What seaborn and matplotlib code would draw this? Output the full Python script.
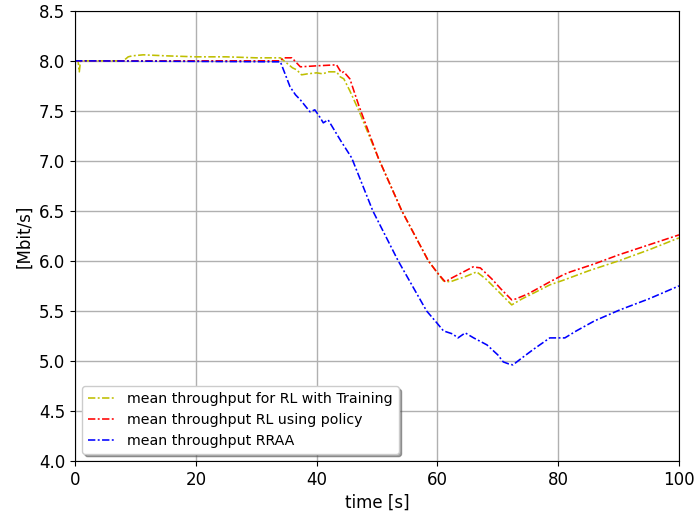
import matplotlib
matplotlib.use("Agg")
import matplotlib.pyplot as plt
import seaborn as sns
import pandas as pd

# ---- data ----
train_x = [0, 0.5, 0.7, 0.9, 2, 5, 8, 8.8, 9.5, 11.3, 15, 20, 25, 30, 34, 35, 36, 36.7, 37.5,
           38.5, 40, 41, 42, 43.3, 43.9, 44.5, 45.5, 47, 50.2, 54.1, 58.5, 60, 61, 62.1, 63,
           64.5, 66.5, 68, 70, 72.3, 74, 76, 78.6, 81, 85, 90, 95, 100]
train_y = [8.0, 8.0, 7.89, 8.0, 8.0, 8.0, 8.0, 8.04, 8.05, 8.06, 8.05, 8.04, 8.04, 8.03, 8.03,
           7.98, 7.93, 7.91, 7.86, 7.87, 7.88, 7.87, 7.89, 7.89, 7.84, 7.82, 7.7, 7.5, 7.03,
           6.5, 6.0, 5.88, 5.8, 5.79, 5.81, 5.84, 5.89, 5.82, 5.7, 5.56, 5.62, 5.68, 5.76,
           5.81, 5.9, 6.0, 6.11, 6.23]

policy_x = [0, 34, 34.5, 35.9, 37.3, 40, 43.3, 44.1, 44.5, 45.5, 47, 50.2, 54.1, 58.5, 60,
            61.3, 62.4, 64, 65.9, 67.1, 69, 70.5, 72.3, 73, 75, 78.6, 80.8, 82, 86, 90, 95, 100]
policy_y = [8.0, 8.0, 8.03, 8.03, 7.94, 7.95, 7.96, 7.88, 7.89, 7.82, 7.55, 7.03, 6.5, 6.0,
            5.88, 5.79, 5.83, 5.88, 5.94, 5.93, 5.82, 5.72, 5.61, 5.62, 5.67, 5.79, 5.86,
            5.89, 5.97, 6.06, 6.16, 6.26]

rraa_x = [0, 34, 35.6, 36.5, 37.3, 38.9, 39.7, 40.5, 41.1, 41.9, 42.5, 44, 45.8, 49.3, 53.5,
          58.2, 59.9, 61, 62.5, 63.4, 64.6, 66, 68.2, 70, 70.9, 71.8, 72.5, 74, 76, 78.6, 80,
          81.1, 83, 86, 90.2, 95, 100]
rraa_y = [8.0, 7.99, 7.74, 7.66, 7.61, 7.49, 7.51, 7.44, 7.38, 7.41, 7.35, 7.2, 7.03, 6.5,
          6.0, 5.5, 5.38, 5.3, 5.27, 5.23, 5.28, 5.23, 5.16, 5.06, 4.99, 4.97, 4.96, 5.03,
          5.12, 5.23, 5.23, 5.23, 5.3, 5.4, 5.51, 5.62, 5.75]

labels = ["mean throughput for RL with Training",
          "mean throughput RL using policy",
          "mean throughput RRAA"]
colors = ["#bfbf00", "#ff0000", "#0000ff"]

x_ticks = [0, 20, 40, 60, 80, 100]
y_ticks = [4.0, 4.5, 5.0, 5.5, 6.0, 6.5, 7.0, 7.5, 8.0, 8.5]

fig = plt.figure(figsize=(6.95, 5.15), dpi=100)
ax = fig.add_axes([0.108, 0.105, 0.869, 0.874])

series = [(train_x, train_y), (policy_x, policy_y), (rraa_x, rraa_y)]
for (xs, ys), lab, col in zip(series, labels, colors):
    df = pd.DataFrame({"t": xs, "v": ys})
    sns.lineplot(data=df, x="t", y="v", ax=ax, color=col,
                 linestyle=(0, (4.6, 1.5, 1.2, 1.5)),
                 linewidth=1.15, label=lab, estimator=None, sort=False)

ax.set_xlim(0, 100)
ax.set_ylim(4.0, 8.5)
ax.set_xticks(x_ticks)
ax.set_yticks(y_ticks)
ax.set_yticklabels([f"{v:.1f}" for v in y_ticks])
ax.grid(True, color="#b0b0b0", linewidth=1.0)
ax.set_axisbelow(True)
ax.set_xlabel("time [s]", fontsize=12)
ax.set_ylabel("[Mbit/s]", fontsize=12)
ax.tick_params(labelsize=12)
for s in ax.spines.values():
    s.set_color("black")

ax.legend(loc="lower left", shadow=True, fontsize=10.2)

fig.savefig("out.png", dpi=100)
